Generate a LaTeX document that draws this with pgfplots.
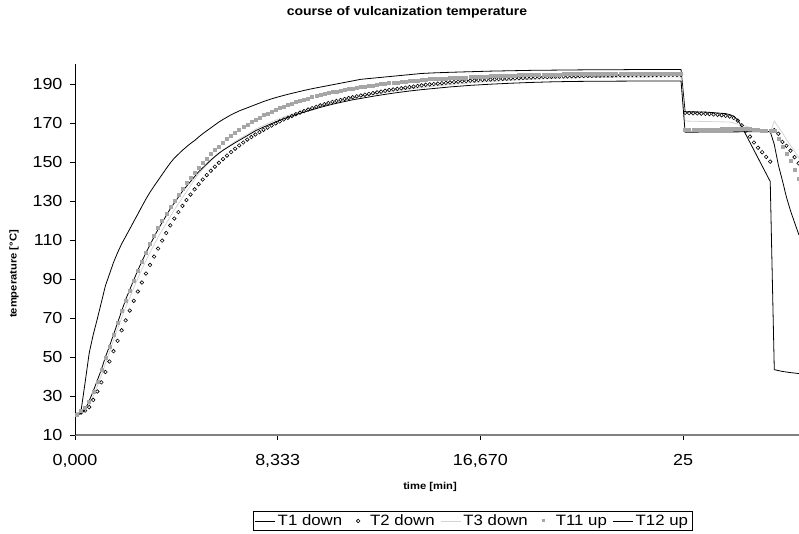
\documentclass[border=0pt]{standalone}
\usepackage{pgfplots}
\usepackage{pgfplotstable}
\pgfplotsset{compat=1.18}
\usepackage{fontspec}
\setmainfont{Liberation Sans}[FakeStretch=1.12]
\definecolor{sqgray}{HTML}{A6A6A6}
\definecolor{lgray}{HTML}{D4D4D4}

\pgfplotstableread[row sep=\\]{t v\\
5 20.5\\15 21.5\\25 22.5\\35 24.3\\45 28\\55 32.3\\65 37\\75 42.3\\85 47.7\\95 53\\
105 58.3\\115 63.7\\125 68.8\\135 73.8\\145 78.8\\155 83.6\\165 88.2\\175 92.8\\185 97.2\\195 101.5\\
205 105.6\\215 109.7\\225 113.6\\235 117.5\\245 121\\255 124.3\\265 127.5\\275 130.5\\285 133.3\\295 136\\
305 138.6\\315 141\\325 143.3\\335 145.5\\345 147.6\\355 149.6\\365 151.5\\375 153.3\\385 155.1\\395 156.8\\
405 158.5\\415 160\\425 161.5\\435 162.8\\445 164.1\\455 165.3\\465 166.5\\475 167.6\\485 168.7\\495 169.8\\
505 170.8\\515 171.8\\525 172.7\\535 173.6\\545 174.5\\555 175.3\\565 176.1\\575 176.9\\585 177.6\\595 178.3\\
605 179\\615 179.6\\625 180.2\\635 180.8\\645 181.3\\655 181.8\\665 182.3\\675 182.8\\685 183.2\\695 183.7\\
705 184.1\\715 184.5\\725 184.9\\735 185.3\\745 185.7\\755 186.1\\765 186.5\\775 186.9\\785 187.2\\795 187.5\\
805 187.8\\815 188.1\\825 188.4\\835 188.7\\845 189\\855 189.3\\865 189.6\\875 189.8\\885 190\\895 190.2\\
905 190.4\\915 190.6\\925 190.8\\935 191\\945 191.2\\955 191.4\\965 191.5\\975 191.7\\985 191.8\\995 192\\
1005 192.1\\1015 192.2\\1025 192.3\\1035 192.4\\1045 192.5\\1055 192.6\\1065 192.7\\1075 192.8\\1085 192.9\\1095 193\\
1105 193.1\\1115 193.2\\1125 193.3\\1135 193.4\\1145 193.5\\1155 193.6\\1165 193.6\\1175 193.7\\1185 193.8\\1195 193.8\\
1205 193.9\\1215 193.9\\1225 194\\1235 194\\1245 194.1\\1255 194.1\\1265 194.2\\1275 194.2\\1285 194.3\\1295 194.3\\
1305 194.4\\1315 194.4\\1325 194.4\\1335 194.5\\1345 194.5\\1355 194.5\\1365 194.5\\1375 194.6\\1385 194.6\\1395 194.6\\
1405 194.6\\1415 194.6\\1425 194.6\\1435 194.6\\1445 194.6\\1455 194.7\\1465 194.7\\1475 194.7\\1485 194.7\\1495 194.7\\
1505 175.2\\1515 175.1\\1525 175\\1535 174.9\\1545 174.8\\1555 174.7\\1565 174.6\\1575 174.4\\1585 174.2\\1595 174\\
1605 173.7\\1615 173.3\\1625 172.6\\1635 171.2\\1645 168.8\\1655 166\\1665 163\\1675 160\\1685 157.3\\1695 155\\
1705 152.6\\1715 150.2\\1725 166.4\\1735 164.5\\1745 160.3\\1755 158.3\\1765 155.8\\1775 152.5\\1785 149.3\\
}\TTwo

\pgfplotstableread[row sep=\\]{t v\\
5 20.3\\15 22.5\\25 23.8\\35 27\\45 32\\55 37.5\\65 43.3\\75 49.5\\85 55.5\\95 61.5\\
105 67.5\\115 73.5\\125 79\\135 84.2\\145 89.2\\155 94.2\\165 99\\175 103.5\\185 108\\195 112.2\\
205 116.2\\215 120\\225 123.6\\235 127\\245 130.3\\255 133.4\\265 136.4\\275 139.2\\285 142\\295 144.6\\
305 147.1\\315 149.5\\325 151.8\\335 154\\345 156.1\\355 158.1\\365 160\\375 161.8\\385 163.5\\395 165.1\\
405 166.6\\415 168\\425 169.3\\435 170.6\\445 171.8\\455 172.9\\465 174\\475 175\\485 176\\495 176.9\\
505 177.8\\515 178.6\\525 179.4\\535 180.1\\545 180.8\\555 181.5\\565 182.1\\575 182.7\\585 183.3\\595 183.8\\
605 184.3\\615 184.8\\625 185.3\\635 185.8\\645 186.2\\655 186.6\\665 187\\675 187.4\\685 187.8\\695 188.1\\
705 188.4\\715 188.7\\725 189\\735 189.3\\745 189.6\\755 189.9\\765 190.2\\775 190.5\\785 190.7\\795 190.9\\
805 191.1\\815 191.3\\825 191.5\\835 191.7\\845 191.9\\855 192.1\\865 192.3\\875 192.5\\885 192.6\\895 192.7\\
905 192.8\\915 192.9\\925 193\\935 193.1\\945 193.2\\955 193.3\\965 193.4\\975 193.5\\985 193.6\\995 193.7\\
1005 193.8\\1015 193.9\\1025 194\\1035 194.1\\1045 194.2\\1055 194.3\\1065 194.4\\1075 194.5\\1085 194.5\\1095 194.6\\
1105 194.6\\1115 194.7\\1125 194.7\\1135 194.8\\1145 194.8\\1155 194.9\\1165 194.9\\1175 195\\1185 195\\1195 195\\
1205 195.1\\1215 195.1\\1225 195.1\\1235 195.2\\1245 195.2\\1255 195.2\\1265 195.2\\1275 195.3\\1285 195.3\\1295 195.3\\
1305 195.3\\1315 195.3\\1325 195.4\\1335 195.4\\1345 195.4\\1355 195.4\\1365 195.4\\1375 195.4\\1385 195.4\\1395 195.4\\
1405 195.4\\1415 195.4\\1425 195.4\\1435 195.5\\1445 195.5\\1455 195.5\\1465 195.5\\1475 195.5\\1485 195.5\\1495 195.5\\
1505 166.6\\1515 166.6\\1525 166.6\\1535 166.7\\1545 166.7\\1555 166.7\\1565 166.8\\1575 166.8\\1585 166.8\\1595 166.9\\
1605 166.9\\1615 167\\1625 167\\1635 167\\1645 167.1\\1655 167\\1665 166.9\\1675 166.7\\1685 166.5\\1695 166.2\\
1705 166\\1715 165.8\\1725 166\\1735 162\\1745 158\\1755 154.5\\1765 150.5\\1775 146\\1785 141.5\\
}\TEleven

\begin{document}
\begin{tikzpicture}
\useasboundingbox (0,0) rectangle (799pt,533pt);
\begin{axis}[
  at={(75pt,98pt)}, anchor=south west,
  scale only axis, width=724pt, height=370.5pt,
  xmin=0, xmax=1786, ymin=10, ymax=200,
  axis x line*=bottom, axis y line*=left,
  x axis line style={draw=gray, line width=1.8pt},
  y axis line style={draw=black, line width=0.8pt},
  xtick={0,500,1000,1500},
  xticklabels={{0,000},{8,333},{16,670},{25}},
  ytick={10,30,50,70,90,110,130,150,170,190},
  yticklabels={10,30,50,70,90,110,130,150,170,190},
  tick align=outside, major tick length=5pt,
  tick style={black, line width=0.8pt},
  ticklabel style={font=\fontsize{16}{18}\selectfont},
  yticklabel style={xshift=-4pt},
  xticklabel style={yshift=-11pt},
  legend columns=5,
  legend cell align=left,
  legend style={at={(0.549,-0.232)}, anchor=center, draw=black, line width=0.8pt,
    font=\fontsize{15}{17}\selectfont, inner xsep=2pt, inner ysep=1pt,
    /tikz/every even column/.append style={column sep=4pt}},
]
\addplot[black, line width=0.8pt, mark=none,
  legend image code/.code={\draw[black,line width=0.8pt] (0pt,0pt)--(20pt,0pt);}]
coordinates {(5,20.3) (15,22.5) (25,37) (35,52) (45,61.5) (55,69.5) (65,78) (75,86.5) (85,92.5) (95,98.5)
(105,103.5) (115,108) (125,111.8) (135,115.6) (145,119.5) (155,123.3) (165,127.2) (175,131) (185,134.5) (195,137.6)
(205,140.6) (215,143.6) (225,146.6) (235,149.5) (245,152) (255,154) (265,156) (275,157.8) (285,159.5) (295,161)
(305,162.8) (315,164.5) (325,166) (335,167.5) (345,169) (355,170.5) (365,171.8) (375,173) (385,174.2) (395,175.2)
(405,176.2) (415,177) (425,177.8) (445,179.4) (465,181) (485,182.4) (505,183.6) (525,184.7) (545,185.7) (565,186.7)
(585,187.6) (605,188.4) (625,189.2) (645,190) (665,190.8) (685,191.6) (705,192.4) (735,193) (765,193.6) (795,194.2)
(825,194.8) (855,195.4) (885,195.7) (925,196) (975,196.3) (1025,196.6) (1075,196.8) (1125,197) (1175,197.1) (1225,197.2)
(1275,197.3) (1325,197.3) (1375,197.4) (1425,197.4) (1495,197.4) (1505,175.8) (1555,175.6) (1605,174.8) (1615,174.3) (1625,173.5)
(1635,171.5) (1645,168) (1655,164) (1665,160) (1675,156) (1685,152) (1695,148) (1705,144) (1715,140) (1725,43.5)
(1745,42.6) (1765,42) (1786,41.5)};
\addlegendentry{T1 down}
\addplot[only marks, mark=o, mark size=1.8pt, mark options={black, line width=0.6pt},
  legend image code/.code={\path[draw=none,fill=none] (0pt,-2pt) rectangle (20pt,2pt); \draw[black,line width=0.6pt,fill=none] (10pt,0pt) circle (1.8pt);}]
table[x=t, y=v] {\TTwo};
\addlegendentry{T2 down}
\addplot[lgray, line width=0.8pt, mark=none,
  legend image code/.code={\draw[lgray,line width=0.8pt] (0pt,0pt)--(20pt,0pt);}]
coordinates {(5,20.5) (15,21) (25,22.5) (35,25.5) (45,30) (55,35) (65,40.5) (75,46.5) (85,52.5) (95,58.5)
(105,64.5) (115,70) (125,75.5) (135,80.5) (145,85.5) (155,90.5) (165,95) (175,99.5) (185,103.5) (195,107.5)
(205,111.5) (215,115) (225,118.5) (235,122) (245,125.5) (255,128.5) (265,131.7) (275,134.8) (285,137.9) (295,141)
(305,144) (325,148.5) (345,152.5) (365,156) (385,159) (405,161.8) (425,164.2) (445,166.8) (465,168.8) (485,170.6)
(505,172.3) (525,173.8) (545,175.2) (565,176.5) (585,177.7) (605,178.9) (625,180) (645,181) (665,181.9) (685,182.8)
(705,183.6) (735,184.7) (765,185.7) (795,186.6) (825,187.4) (855,188.2) (885,188.9) (925,189.7) (975,190.6) (1025,191.3)
(1075,191.9) (1125,192.4) (1175,192.8) (1225,193.1) (1275,193.3) (1375,193.5) (1495,193.6) (1505,171) (1615,170.5) (1645,169)
(1675,167) (1715,165) (1725,171) (1735,168) (1745,165) (1755,161.5) (1765,158.5) (1775,155.5) (1786,152)};
\addlegendentry{T3 down}
\addplot[only marks, mark=square*, mark size=1.5pt, mark options={sqgray, draw=sqgray},
  legend image code/.code={\path[draw=none,fill=none] (0pt,-2pt) rectangle (20pt,2pt); \fill[sqgray,draw=none] (8.5pt,-1.5pt) rectangle (11.5pt,1.5pt);}]
table[x=t, y=v] {\TEleven};
\addlegendentry{T11 up}
\addplot[black, line width=0.8pt, mark=none,
  legend image code/.code={\draw[black,line width=0.8pt] (0pt,0pt)--(20pt,0pt);}]
coordinates {(5,20.3) (15,21) (25,23) (35,27.5) (45,32.5) (55,38) (65,43.5) (75,50) (85,55.5) (95,61.5)
(105,67.5) (115,73.5) (125,79.5) (135,84.5) (145,89.5) (155,94.5) (165,99) (175,103.5) (185,107.5) (195,111.5)
(205,115.5) (215,119) (225,122.5) (235,126) (245,129) (255,132) (265,135) (275,137.5) (285,140) (295,142.5)
(305,145) (315,147) (325,149) (335,151) (345,152.8) (355,154.5) (365,156) (375,157.3) (385,158.6) (395,159.9)
(405,161.1) (425,163.5) (445,166) (465,167.9) (485,169.7) (505,171.4) (525,172.9) (545,174.3) (565,175.6) (585,176.8)
(605,178) (625,179.1) (645,180.1) (665,181) (685,181.9) (705,182.6) (735,183.7) (765,184.7) (795,185.6) (825,186.4)
(855,187.1) (885,187.7) (925,188.5) (975,189.3) (1025,189.9) (1075,190.4) (1125,190.8) (1175,191.1) (1225,191.3) (1275,191.4)
(1375,191.5) (1495,191.5) (1505,165.3) (1605,165.4) (1715,165.6) (1725,159) (1735,148.5) (1745,140.5) (1755,132) (1765,125)
(1775,119) (1786,112.5)};
\addlegendentry{T12 up}
\end{axis}
\node[font=\bfseries\fontsize{12.5}{14}\selectfont] at (407pt,521pt) {course of vulcanization temperature};
\node[font=\bfseries\fontsize{10}{12}\selectfont] at (430pt,46pt) {time [min]};
\node[font=\bfseries\fontsize{10}{12}\selectfont, rotate=90] at (14pt,259pt) {temperature [°C]};
\end{tikzpicture}
\end{document}
